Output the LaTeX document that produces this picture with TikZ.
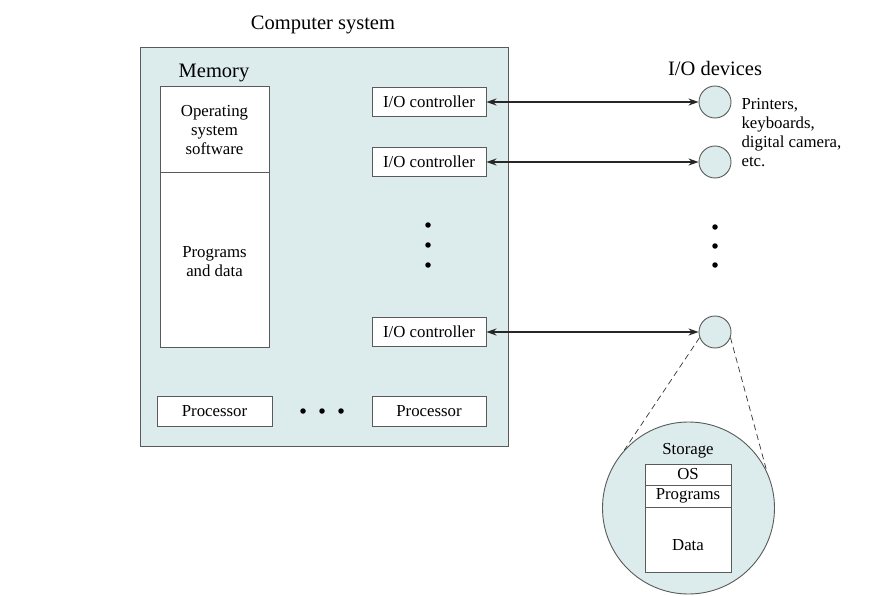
\documentclass[tikz,border=0pt]{standalone}
\usepackage{fontspec}
\setmainfont{Liberation Serif}
\usetikzlibrary{arrows.meta}
\definecolor{panel}{RGB}{220,235,235}
\definecolor{edge}{RGB}{90,90,90}
\begin{document}
\begin{tikzpicture}[x=1pt,y=-1pt,
  lbl/.style={font=\fontsize{16.8}{19}\selectfont},
  ttl/.style={font=\fontsize{20.5}{24}\selectfont},
  wbox/.style={draw=edge,line width=0.9pt,fill=white,inner sep=0pt,lbl},
  dev/.style={draw=edge,line width=0.9pt,fill=panel,circle,minimum size=32pt,inner sep=0pt},
  dot/.style={fill=black,circle,minimum size=5.5pt,inner sep=0pt},
  link/.style={line width=1.3pt,draw=black!85,{Stealth[length=10pt,width=7pt]}-{Stealth[length=10pt,width=7pt]}},
  zoomline/.style={dash pattern=on 6pt off 4pt,line width=0.7pt,draw=black!80}]
\useasboundingbox (0,0) rectangle (883,596);
% computer system
\node[ttl] (cstitle) at (323,25) {Computer system};
\node[draw=edge,line width=0.9pt,fill=panel,minimum width=368pt,minimum height=399pt,inner sep=0pt] (cs) at (324,246.5) {};
\node[ttl] (memt) at (214,73) {Memory};
\node[wbox,minimum width=109pt,minimum height=86pt,align=center,anchor=north] (os) at (214.5,86) {};
\node[lbl,align=center,anchor=north] (ostext) at (214.5,102) {Operating\\system\\software};
\node[wbox,minimum width=109pt,minimum height=175pt,anchor=north] (prog) at (214.5,172) {};
\node[lbl,align=center] (progtext) at (214.5,262) {Programs\\and data};
% I/O controllers
\node[wbox,minimum width=114pt,minimum height=29.5pt] (io1) at (429,102) {I/O controller};
\node[wbox,minimum width=114pt,minimum height=29.5pt] (io2) at (429,162) {I/O controller};
\node[wbox,minimum width=114pt,minimum height=29.5pt] (io3) at (429,332) {I/O controller};
\node[dot] (vd1) at (428,225) {};
\node[dot] (vd2) at (428,245) {};
\node[dot] (vd3) at (428,265) {};
% processors
\node[wbox,minimum width=115pt,minimum height=30pt] (p1) at (214.5,411) {Processor};
\node[wbox,minimum width=114pt,minimum height=30pt] (p2) at (429,411) {Processor};
\node[dot] (hd1) at (303,411) {};
\node[dot] (hd2) at (322,411) {};
\node[dot] (hd3) at (341,411) {};
% devices
\node[ttl] (iot) at (715,68) {I/O devices};
\node[dev] (d1) at (715,102) {};
\node[dev] (d2) at (715,162) {};
\node[dev] (d3) at (715,332) {};
\node[lbl,align=left,anchor=north west] (devtext) at (738,95) {Printers,\\keyboards,\\digital camera,\\etc.};
\node[dot] (wd1) at (715,227) {};
\node[dot] (wd2) at (715,246) {};
\node[dot] (wd3) at (715,265) {};
\draw[link] (io1.east) -- (d1.west);
\draw[link] (io2.east) -- (d2.west);
\draw[link] (io3.east) -- (d3.west);
% storage
\node[draw=edge,line width=0.9pt,fill=panel,circle,minimum size=172pt,inner sep=0pt] (stor) at (688.5,508) {};
\node[lbl] (stt) at (688,451) {Storage};
\node[wbox,minimum width=86pt,minimum height=21pt,anchor=north] (sos) at (688,463.5) {OS};
\node[wbox,minimum width=86pt,minimum height=22.5pt,anchor=north] (sprog) at (688,484.5) {Programs};
\node[wbox,minimum width=86pt,minimum height=65pt,anchor=north] (sdata) at (688,507) {};
\node[lbl] (sdatatext) at (688,545) {Data};
\draw[zoomline] (d3.200) -- (stor.138);
\draw[zoomline] (d3.-20) -- (stor.25);
\end{tikzpicture}
\end{document}
